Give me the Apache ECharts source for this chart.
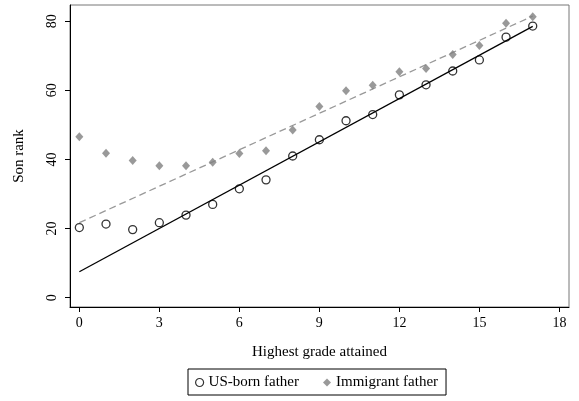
<!DOCTYPE html>
<html>
<head>
<meta charset="utf-8">
<script src="https://cdn.jsdelivr.net/npm/echarts@6/dist/echarts.min.js"></script>
<style>html,body{margin:0;padding:0;background:#fff}#c{width:579px;height:401px}</style>
</head>
<body>
<div id="c"></div>
<script>
var grades = [0,1,2,3,4,5,6,7,8,9,10,11,12,13,14,15,16,17];
var usBorn = [20.3,21.3,19.7,21.7,23.9,27.0,31.5,34.1,41.0,45.7,51.2,53.0,58.7,61.6,65.6,68.8,75.4,78.6];
var immigrant = [46.6,41.8,39.7,38.2,38.2,39.2,41.7,42.5,48.5,55.3,59.9,61.5,65.4,66.3,70.4,73.0,79.4,81.3];
var fitX = [0,17];
var fitUS = [7.5,78.5];
var fitImm = [21.7,81.5];
var xTicks = [0,3,6,9,12,15,18];
var yTicks = [0,20,40,60,80];

function pairs(xs, ys){ return xs.map(function(x,i){ return [x, ys[i]]; }); }
var FONT = '"Liberation Serif","DejaVu Serif",serif';

var chart = echarts.init(document.getElementById('c'), null, {renderer:'canvas'});
chart.setOption({
  animation:false,
  backgroundColor:'#fff',
  grid:{left:70, right:10, top:5, height:302, show:true, borderColor:'#777', borderWidth:1, containLabel:false},
  xAxis:{
    type:'value', min:-0.35, max:18.36,
    name:'Highest grade attained', nameLocation:'middle', nameGap:38,
    nameTextStyle:{fontFamily:FONT, fontSize:15, color:'#000'},
    axisLine:{show:true, onZero:false, lineStyle:{color:'#000', width:1}},
    axisTick:{show:true, length:5, customValues:xTicks, lineStyle:{color:'#000'}},
    axisLabel:{customValues:xTicks, margin:9, fontFamily:FONT, fontSize:14, color:'#000'},
    splitLine:{show:false}
  },
  yAxis:{
    type:'value', min:-2.7, max:84.7,
    name:'Son rank', nameLocation:'middle', nameGap:43,
    nameTextStyle:{fontFamily:FONT, fontSize:15, color:'#000'},
    axisLine:{show:true, onZero:false, lineStyle:{color:'#000', width:1}},
    axisTick:{show:true, length:5, customValues:yTicks, lineStyle:{color:'#000'}},
    axisLabel:{customValues:yTicks, rotate:90, margin:11, fontFamily:FONT, fontSize:14, color:'#000'},
    splitLine:{show:false}
  },
  legend:{
    left:188, top:369, orient:'horizontal',
    data:[{name:'US-born father', icon:'circle', itemStyle:{color:'#fff', borderColor:'#000', borderWidth:1.2}},
          {name:'Immigrant father', icon:'diamond'}],
    itemWidth:8, itemHeight:8, itemGap:24,
    padding:[6,8,5,7],
    borderColor:'#000', borderWidth:1,
    textStyle:{fontFamily:FONT, fontSize:15, color:'#000'}
  },
  series:[
    {name:'fitImm', type:'line', data:pairs(fitX, fitImm), symbol:'none', lineStyle:{color:'#999', width:1.3, type:[7,4]}, z:1, silent:true},
    {name:'fitUS', type:'line', data:pairs(fitX, fitUS), symbol:'none', lineStyle:{color:'#000', width:1.3}, z:1, silent:true},
    {name:'Immigrant father', type:'scatter', data:pairs(grades, immigrant), symbol:'diamond', symbolSize:[8,9], itemStyle:{color:'#808080'}, z:3},
    {name:'US-born father', type:'scatter', data:pairs(grades, usBorn), symbol:'circle', symbolSize:8, itemStyle:{color:'rgba(0,0,0,0)', borderColor:'#000', borderWidth:1.3}, z:4}
  ]
});
</script>
</body>
</html>
